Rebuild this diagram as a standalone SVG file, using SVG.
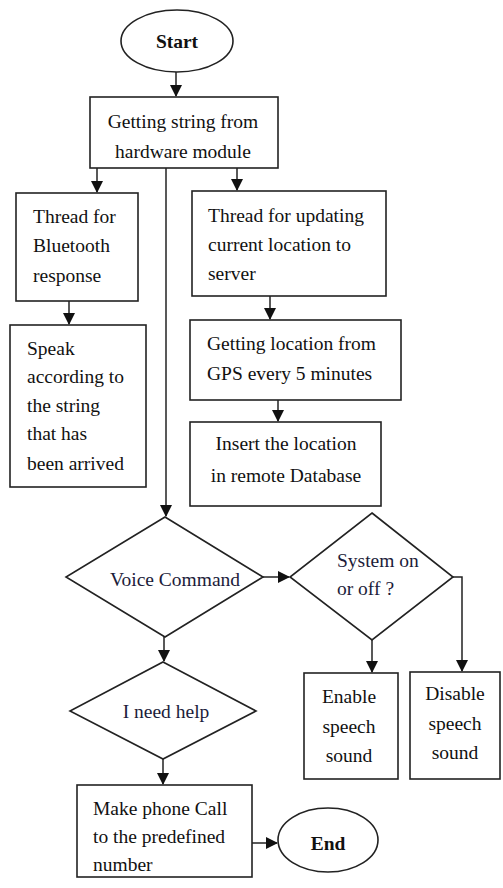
<svg xmlns="http://www.w3.org/2000/svg" width="503" height="888" viewBox="0 0 503 888">
<style>
.s{fill:#fff;stroke:#222;stroke-width:1.6}
text{font-family:'Liberation Serif','Times New Roman','DejaVu Serif',serif;font-size:19.5px;fill:#111}
.c{text-anchor:middle}
.b{font-weight:bold}
.q{fill:#1c1c3a}
.k{fill:none;stroke:#222;stroke-width:1.5}
</style>
<defs>
<marker id="a" markerUnits="userSpaceOnUse" markerWidth="12" markerHeight="14" refX="11" refY="6" orient="auto">
<path d="M0,0 L12,6 L0,12 Z" fill="#111"/>
</marker>
</defs>
<g id="connectors">
<path class="k" d="M176,72 L176,96" marker-end="url(#a)"/>
<path class="k" d="M97,168 L97,192" marker-end="url(#a)"/>
<path class="k" d="M237,168 L237,190" marker-end="url(#a)"/>
<path class="k" d="M166,168 L166,516" marker-end="url(#a)"/>
<path class="k" d="M69,301 L69,324" marker-end="url(#a)"/>
<path class="k" d="M270,296 L270,319" marker-end="url(#a)"/>
<path class="k" d="M278,400 L278,421" marker-end="url(#a)"/>
<path class="k" d="M263,577 L289,577" marker-end="url(#a)"/>
<path class="k" d="M372,640 L372,672" marker-end="url(#a)"/>
<path class="k" d="M453,577 L462,577 L462,671" marker-end="url(#a)"/>
<path class="k" d="M164,637 L164,661" marker-end="url(#a)"/>
<path class="k" d="M163,759 L163,784" marker-end="url(#a)"/>
<path class="k" d="M252,843 L277,843" marker-end="url(#a)"/>
</g>
<g id="start">
<ellipse class="s" cx="177" cy="41" rx="56" ry="31"/>
<text class="c b" x="177" y="48">Start</text>
</g>
<g id="getting-string">
<rect class="s" x="90" y="97" width="188" height="71"/>
<text class="c" x="183" y="128">Getting string from</text>
<text class="c" x="183" y="158">hardware module</text>
</g>
<g id="thread-bluetooth">
<rect class="s" x="16" y="193" width="122" height="108"/>
<text x="33" y="223">Thread for</text>
<text x="33" y="252">Bluetooth</text>
<text x="33" y="282">response</text>
</g>
<g id="speak">
<rect class="s" x="10" y="325" width="136" height="162"/>
<text x="27" y="355">Speak</text>
<text x="27" y="383">according to</text>
<text x="27" y="412">the string</text>
<text x="27" y="440">that has</text>
<text x="27" y="470">been arrived</text>
</g>
<g id="thread-location">
<rect class="s" x="192" y="191" width="194" height="105"/>
<text x="208" y="222">Thread for updating</text>
<text x="208" y="251">current location to</text>
<text x="208" y="280">server</text>
</g>
<g id="gps">
<rect class="s" x="190" y="320" width="211" height="80"/>
<text x="207" y="350">Getting location from</text>
<text x="207" y="380">GPS every 5 minutes</text>
</g>
<g id="insert">
<rect class="s" x="190" y="422" width="191" height="84"/>
<text class="c" x="286" y="450">Insert the location</text>
<text class="c" x="286" y="482">in remote Database</text>
</g>
<g id="voice-command">
<path class="s" d="M165,517 L263,577 L165,637 L66,577 Z"/>
<text class="c q" x="175" y="586">Voice Command</text>
</g>
<g id="system-on-off">
<path class="s" d="M372,513 L453,577 L372,640 L290,577 Z"/>
<text class="q" x="337" y="567">System on</text>
<text class="q" x="337" y="595">or off ?</text>
</g>
<g id="enable">
<rect class="s" x="304" y="673" width="94" height="106"/>
<text class="c" x="349" y="703">Enable</text>
<text class="c" x="349" y="733">speech</text>
<text class="c" x="349" y="762">sound</text>
</g>
<g id="disable">
<rect class="s" x="410" y="672" width="90" height="107"/>
<text class="c" x="455" y="700">Disable</text>
<text class="c" x="455" y="730">speech</text>
<text class="c" x="455" y="759">sound</text>
</g>
<g id="need-help">
<path class="s" d="M163,662 L256,711 L163,759 L70,711 Z"/>
<text class="c q" x="166" y="718">I need help</text>
</g>
<g id="phone-call">
<rect class="s" x="77" y="785" width="175" height="92"/>
<text x="93" y="815">Make phone Call</text>
<text x="93" y="843">to the predefined</text>
<text x="93" y="871">number</text>
</g>
<g id="end">
<ellipse class="s" cx="328" cy="840" rx="50" ry="32"/>
<text class="c b" x="328" y="850">End</text>
</g>
</svg>
